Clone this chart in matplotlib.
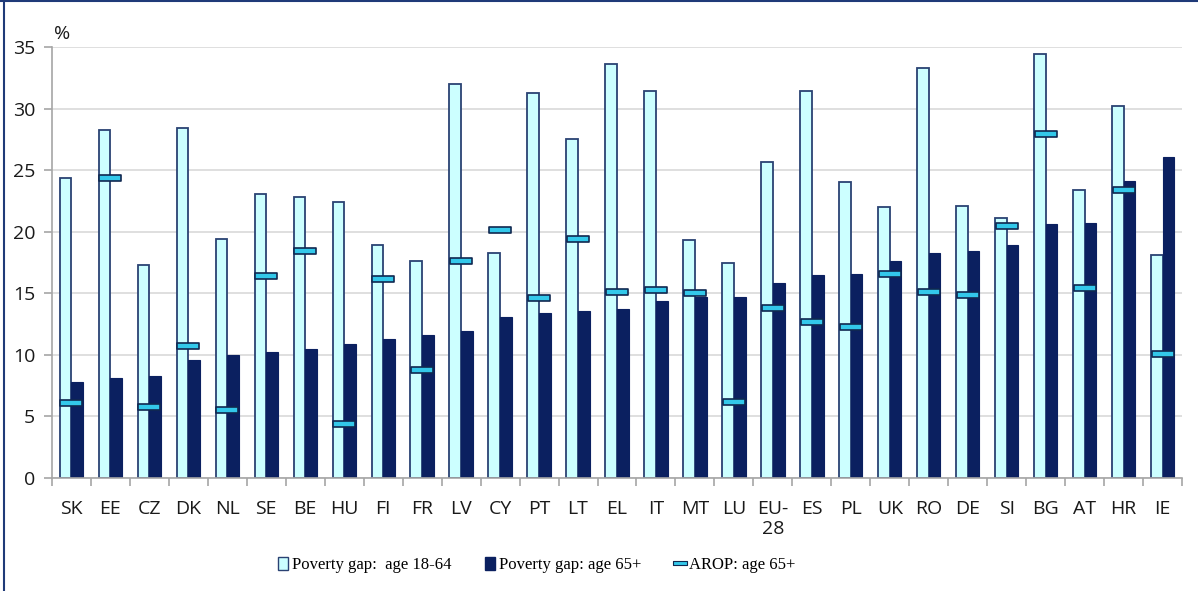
import numpy as np
import matplotlib
matplotlib.use("Agg")
import matplotlib.pyplot as plt
from matplotlib.path import Path
from matplotlib.lines import Line2D
from matplotlib.patches import Patch

countries = ["SK", "EE", "CZ", "DK", "NL", "SE", "BE", "HU", "FI", "FR",
             "LV", "CY", "PT", "LT", "EL", "IT", "MT", "LU", "EU-\n28", "ES",
             "PL", "UK", "RO", "DE", "SI", "BG", "AT", "HR", "IE"]
gap_18_64 = [24.4, 28.3, 17.3, 28.4, 19.4, 23.1, 22.8, 22.4, 18.9, 17.6,
             32.0, 18.3, 31.3, 27.5, 33.6, 31.4, 19.3, 17.5, 25.7, 31.4,
             24.0, 22.0, 33.3, 22.1, 21.1, 34.4, 23.4, 30.2, 18.1]
gap_65 = [7.8, 8.1, 8.3, 9.6, 10.0, 10.2, 10.5, 10.9, 11.3, 11.6,
          11.9, 13.1, 13.4, 13.6, 13.7, 14.4, 14.7, 14.7, 15.8, 16.5,
          16.6, 17.6, 18.3, 18.4, 18.9, 20.6, 20.7, 24.1, 26.1]
arop_65 = [6.1, 24.4, 5.8, 10.7, 5.5, 16.4, 18.4, 4.4, 16.2, 8.8,
           17.6, 20.1, 14.6, 19.4, 15.1, 15.3, 15.0, 6.2, 13.8, 12.7,
           12.3, 16.6, 15.1, 14.9, 20.5, 27.9, 15.4, 23.4, 10.1]

light = "#CCFFFF"
dark = "#0B2060"
edge = "#2A4273"
arop_col = "#33C8EA"
grid_col = "#D9D9D9"
axis_col = "#A6A6A6"
txt_col = "#1a1a1a"
fs = 14

fig = plt.figure(figsize=(11.98, 5.91), dpi=100)
ax = fig.add_axes([52 / 1198, 1 - 478 / 591, 1130 / 1198, 431 / 591])

x = np.arange(len(countries))
w = 0.3
ax.bar(x - w / 2, gap_18_64, width=w, color=light, edgecolor=edge, linewidth=1.3, zorder=2)
ax.bar(x + w / 2, gap_65, width=w, color=dark, edgecolor=dark, linewidth=0.8, zorder=2)

# flat rectangle marker for AROP
rect = Path([(-1, -0.24), (1, -0.24), (1, 0.24), (-1, 0.24), (-1, -0.24)],
            [Path.MOVETO, Path.LINETO, Path.LINETO, Path.LINETO, Path.CLOSEPOLY])
ax.plot(x, arop_65, ls="none", marker=rect, ms=16.5, mfc=arop_col, mec="#102850",
        mew=1.2, zorder=3)

ax.set_xlim(-0.5, len(countries) - 0.5)
ax.set_ylim(0, 35)
ax.set_yticks(range(0, 36, 5))
ax.yaxis.grid(True, color=grid_col, linewidth=1.2)
ax.set_axisbelow(True)
for s in ["top", "right"]:
    ax.spines[s].set_visible(False)
for s in ["left", "bottom"]:
    ax.spines[s].set_color(axis_col)
    ax.spines[s].set_linewidth(1.2)

ax.set_xticks(x)
ax.set_xticklabels(countries, fontfamily="Open Sans", fontsize=fs, color=txt_col,
                   linespacing=1.15, va="top")
ax.set_xticks(np.arange(-0.5, len(countries), 1), minor=True)
ax.tick_params(axis="x", which="major", length=0, pad=16)
ax.tick_params(axis="x", which="minor", length=6, color=axis_col, width=1.2)
ax.tick_params(axis="y", length=6, color=axis_col, width=1.2, pad=6,
               labelsize=fs, labelcolor=txt_col)
for lab in ax.get_yticklabels():
    lab.set_fontfamily("Open Sans")

fig.text(54 / 1198, 1 - 34 / 591, "%", fontfamily="Open Sans", fontsize=fs,
         color=txt_col, va="center", ha="left")

handles = [Patch(facecolor=light, edgecolor=edge, linewidth=1.0),
           Patch(facecolor=dark, edgecolor=dark),
           Line2D([], [], ls="none", marker=rect, ms=10, mfc=arop_col, mec="#102850", mew=0.8)]
labels = ["Poverty gap:  age 18-64", "Poverty gap: age 65+", "AROP: age 65+"]
fig.legend(handles, labels, loc="center", bbox_to_anchor=(537 / 1198, 1 - 565 / 591),
           ncol=3, frameon=False, prop={"family": "Liberation Serif", "size": 12},
           handlelength=0.6, handleheight=0.85, handletextpad=0.25, columnspacing=2.0)

# frame lines on the left and top edge of the picture
fig.add_artist(Line2D([4 / 1198, 4 / 1198], [0, 1], color="#1F3A78", lw=1.5))
fig.add_artist(Line2D([0, 1], [1 - 1 / 591, 1 - 1 / 591], color="#1F3A78", lw=1.5))

fig.savefig("out.png", dpi=100)
